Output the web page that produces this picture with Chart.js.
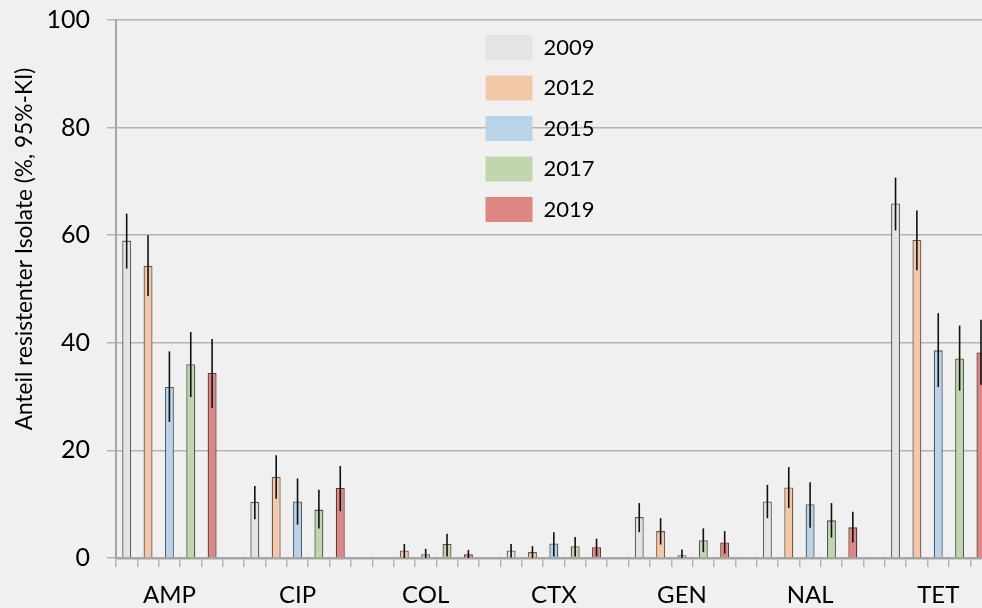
<!DOCTYPE html>
<html>
<head>
<meta charset="utf-8">
<script src="https://cdn.jsdelivr.net/npm/chart.js@4.4.1/dist/chart.umd.min.js"></script>
<style>
  html, body { margin: 0; padding: 0; background: #f0f0f0; overflow: hidden; }
  #wrap { width: 982px; height: 608px; overflow: hidden; }
</style>
</head>
<body>
<div id="wrap"><canvas id="resistChart" width="1030" height="608"></canvas></div>
<script>
const categories = ['AMP', 'CIP', 'COL', 'CTX', 'GEN', 'NAL', 'TET'];
const years = ['2009', '2012', '2015', '2017', '2019'];
const yTicks = [0, 20, 40, 60, 80, 100];
const yTitle = 'Anteil resistenter Isolate (%, 95%-KI)';

// share resistant, per year, same order as categories (null = not tested)
const values2009 = [59.0, 10.4, null, 1.4, 7.6, 10.5, 65.9];
const values2012 = [54.3, 15.1, 1.4, 1.1, 5.0, 13.1, 59.1];
const values2015 = [31.8, 10.5, 0.7, 2.7, 0.5, 10.0, 38.6];
const values2017 = [36.0, 9.0, 2.6, 2.2, 3.3, 7.0, 37.1];
const values2019 = [34.4, 13.0, 0.7, 2.0, 2.9, 5.7, 38.2];

// 95% confidence limits
const low2009 = [53.8, 7.2, null, 0.1, 4.8, 7.4, 60.9];
const high2009 = [64.0, 13.4, null, 2.6, 10.2, 13.6, 70.7];
const low2012 = [48.7, 11.0, 0.0, 0.0, 2.5, 9.3, 53.5];
const high2012 = [60.0, 19.1, 2.6, 2.2, 7.4, 16.9, 64.6];
const low2015 = [25.3, 6.2, 0.0, 0.3, 0.0, 5.6, 31.8];
const high2015 = [38.4, 14.8, 1.7, 4.8, 1.6, 14.1, 45.5];
const low2017 = [29.9, 5.5, 0.3, 0.3, 1.1, 3.8, 31.1];
const high2017 = [42.0, 12.7, 4.5, 3.9, 5.5, 10.2, 43.2];
const low2019 = [27.9, 8.7, 0.0, 0.3, 0.8, 2.9, 32.2];
const high2019 = [40.7, 17.1, 1.5, 3.6, 5.0, 8.6, 44.3];

const fills = ['#e3e4e3', '#f2c8a9', '#b9d4e8', '#bfd6ae', '#dd8784'];
const borders = ['#5f5f5f', '#6e5a4c', '#4f5a63', '#4f5a48', '#5a3a3a'];

const series = [
  { year: years[0], values: values2009, low: low2009, high: high2009 },
  { year: years[1], values: values2012, low: low2012, high: high2012 },
  { year: years[2], values: values2015, low: low2015, high: high2015 },
  { year: years[3], values: values2017, low: low2017, high: high2017 },
  { year: years[4], values: values2019, low: low2019, high: high2019 }
];

// every category gets 6 slots on the axis: 5 bars and one empty slot
const SLOTS = 6;
const nSlots = categories.length * SLOTS;
const slotLabels = [];
for (let i = 0; i < nSlots; i++) {
  slotLabels.push(i % SLOTS === 2 ? categories[Math.floor(i / SLOTS)] : '');
}
function toSlots(arr, s) {
  const out = new Array(nSlots).fill(null);
  arr.forEach((v, c) => { out[c * SLOTS + s] = v; });
  return out;
}

const errorBars = {
  id: 'errorBars',
  afterDatasetsDraw(chart) {
    const ctx = chart.ctx;
    const y = chart.scales.y;
    ctx.save();
    ctx.strokeStyle = '#111';
    ctx.lineWidth = 1.6;
    series.forEach((s, i) => {
      const meta = chart.getDatasetMeta(i);
      s.low.forEach((lo, c) => {
        if (lo === null) return;
        const bar = meta.data[c * SLOTS + i];
        ctx.beginPath();
        ctx.moveTo(bar.x, y.getPixelForValue(lo));
        ctx.lineTo(bar.x, y.getPixelForValue(s.high[c]));
        ctx.stroke();
      });
    });
    ctx.restore();
  }
};

// legend sits inside the plot, in the middle
const legendPlace = {
  id: 'legendPlace',
  afterLayout(chart) {
    chart.legend.left = 470;
    chart.legend.top = 19.5;
  }
};

const axisTitle = {
  id: 'axisTitle',
  afterDraw(chart) {
    const ctx = chart.ctx;
    ctx.save();
    ctx.translate(25, 249);
    ctx.rotate(-Math.PI / 2);
    ctx.font = '22.7px Lato';
    ctx.fillStyle = '#000';
    ctx.textAlign = 'center';
    ctx.textBaseline = 'middle';
    ctx.fillText(yTitle, 0, 0);
    ctx.restore();
  }
};

const ctx = document.getElementById('resistChart').getContext('2d');
new Chart(ctx, {
  type: 'bar',
  data: {
    labels: slotLabels,
    datasets: series.map((s, i) => ({
      label: s.year,
      data: toSlots(s.values, i),
      backgroundColor: fills[i],
      borderColor: borders[i],
      borderWidth: 1.3,
      barPercentage: 0.42,
      categoryPercentage: 1,
      grouped: false
    }))
  },
  options: {
    responsive: false,
    animation: false,
    layout: { padding: { top: 20, right: 17, left: 0, bottom: 0 } },
    plugins: {
      tooltip: { enabled: false },
      legend: {
        position: 'chartArea',
        align: 'start',
        labels: {
          boxWidth: 47,
          boxHeight: 25,
          padding: 15.5,
          color: '#000',
          font: { family: 'Lato', size: 22 },
          generateLabels(chart) {
            return chart.data.datasets.map((d, i) => ({
              text: d.label,
              fillStyle: fills[i],
              strokeStyle: 'rgba(0,0,0,0)',
              lineWidth: 0,
              hidden: false,
              datasetIndex: i
            }));
          }
        }
      }
    },
    scales: {
      x: {
        offset: true,
        grid: { offset: true, drawOnChartArea: false, drawTicks: true, tickLength: 9, color: '#b4b4b4', lineWidth: 1.5 },
        border: { color: '#a6a6a6', width: 2.5 },
        ticks: { autoSkip: false, maxRotation: 0, minRotation: 0, padding: 14, color: '#000', font: { family: 'Lato', size: 24 } },
        afterFit(s) { s.height = 50; }
      },
      y: {
        min: yTicks[0],
        max: yTicks[yTicks.length - 1],
        afterBuildTicks(s) { s.ticks = yTicks.map(v => ({ value: v })); },
        grid: { color: '#b4b4b4', lineWidth: 1.5, tickLength: 9 },
        border: { color: '#a6a6a6', width: 2 },
        ticks: { padding: 17, color: '#000', font: { family: 'Lato', size: 25 } },
        afterFit(s) {
          s.width = 116;
          s.paddingTop = 0;
          s.paddingBottom = 0;
        }
      }
    }
  },
  plugins: [errorBars, legendPlace, axisTitle]
});
</script>
</body>
</html>
